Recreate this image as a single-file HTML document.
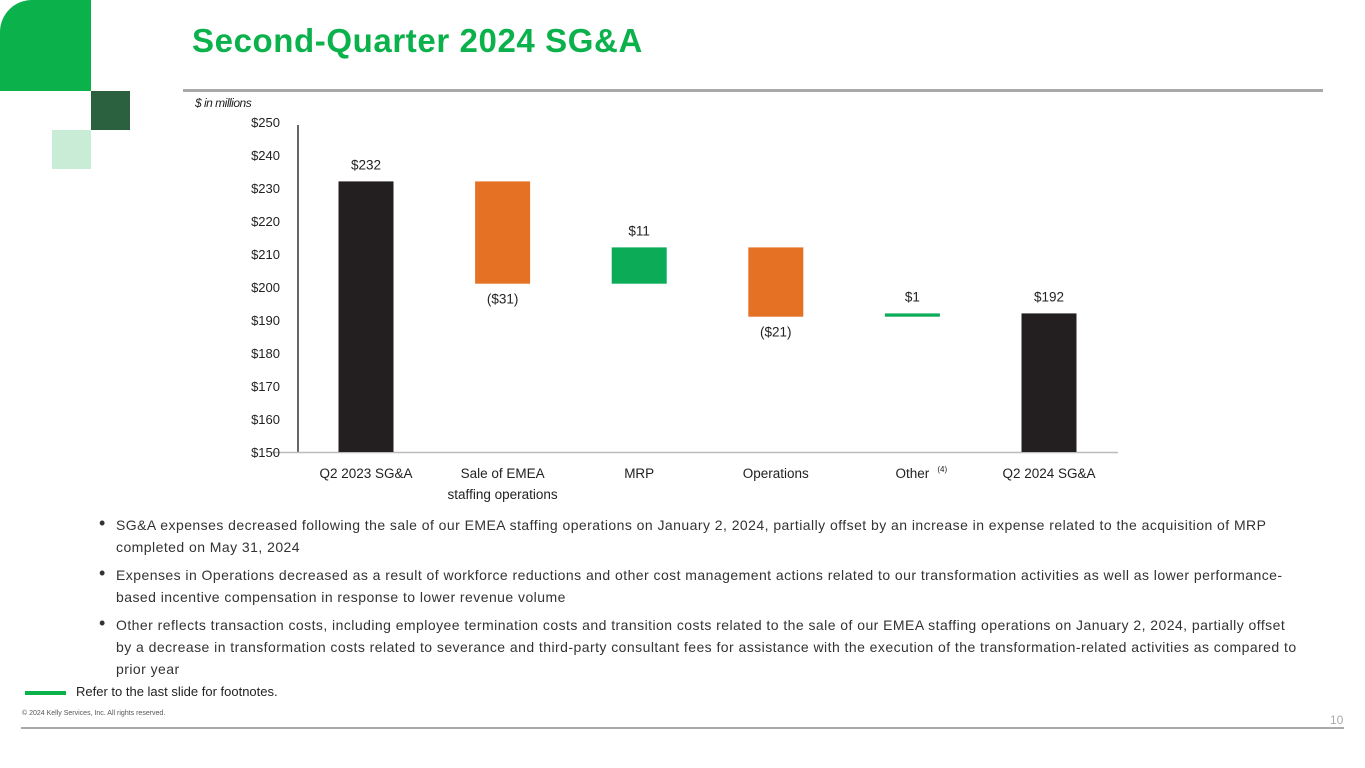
<!DOCTYPE html>
<html><head><meta charset="utf-8"><style>
body{margin:0;width:1365px;height:768px;position:relative;overflow:hidden;background:#fff;font-family:"Liberation Sans",sans-serif;color:#222}
.abs{position:absolute}
ul{margin:0;padding:0;list-style:none}
li{position:relative;padding-left:28px;font-size:14px;line-height:22px;margin-bottom:6px;color:#333;letter-spacing:0.45px}
li:before{content:"•";position:absolute;left:11px;top:-2px;font-size:18px}
</style></head><body>
<div class="abs" style="left:0;top:0;width:91px;height:91px;background:#0bb14b;border-top-left-radius:32px"></div>
<div class="abs" style="left:91px;top:91px;width:39px;height:39px;background:#2c6140"></div>
<div class="abs" style="left:52px;top:130px;width:39px;height:39px;background:#c8ecd6"></div>
<div class="abs" style="left:192px;top:22px;font-size:33px;font-weight:bold;color:#0bb14b;letter-spacing:0.6px">Second-Quarter 2024 SG&amp;A</div>
<div class="abs" style="left:183px;top:89px;width:1140px;height:3px;background:#a9a9a9"></div>
<div class="abs" style="left:195px;top:96px;font-size:12px;font-style:italic;letter-spacing:-0.5px">$ in millions</div>
<svg class="abs" style="left:0;top:0" width="1365" height="520" id="chart"></svg>
<ul class="abs" style="left:88px;top:514px;width:1215px">
<li>SG&amp;A expenses decreased following the sale of our EMEA staffing operations on January 2, 2024, partially offset by an increase in expense related to the acquisition of MRP completed on May 31, 2024</li>
<li>Expenses in Operations decreased as a result of workforce reductions and other cost management actions related to our transformation activities as well as lower performance-based incentive compensation in response to lower revenue volume</li>
<li>Other reflects transaction costs, including employee termination costs and transition costs related to the sale of our EMEA staffing operations on January 2, 2024, partially offset by a decrease in transformation costs related to severance and third-party consultant fees for assistance with the execution of the transformation-related activities as compared to prior year</li>
</ul>
<div class="abs" style="left:25px;top:691px;width:41px;height:4px;background:#0bb14b"></div>
<div class="abs" style="left:76px;top:684px;font-size:13px">Refer to the last slide for footnotes.</div>
<div class="abs" style="left:22px;top:710px;font-size:7px;color:#555">© 2024 Kelly Services, Inc. All rights reserved.</div>
<div class="abs" style="left:21px;top:727px;width:1323px;height:2px;background:#aaa"></div>
<div class="abs" style="left:1330px;top:713px;font-size:12px;color:#aaa">10</div>
<script>
const categories=["Q2 2023 SG&A","Sale of EMEA|staffing operations","MRP","Operations","Other","Q2 2024 SG&A"];
const deltas=[232,-31,11,-21,1,192];
const kinds=["total","delta","delta","delta","delta","total"];
const valueLabels=["$232","($31)","$11","($21)","$1","$192"];
const yTicks=[150,160,170,180,190,200,210,220,230,240,250];
const svg=document.getElementById('chart');const NS="http://www.w3.org/2000/svg";
const y0=452,y1=122,vmin=150,vmax=250;
const y=v=>y0-(v-vmin)/(vmax-vmin)*(y0-y1);
const x=i=>366+i*136.6;
function mk(t,a){const e=document.createElementNS(NS,t);for(const k in a)e.setAttribute(k,a[k]);svg.appendChild(e);return e;}
let l=mk('line',{x1:298,y1:125,x2:298,y2:452,stroke:'#333','stroke-width':1.5});

l=mk('line',{x1:272,y1:452.5,x2:1118,y2:452.5,stroke:'#bbb','stroke-width':1.5});

yTicks.forEach(v=>{const t=mk('text',{x:280,y:y(v)+5,'text-anchor':'end','font-size':13,fill:'#222'});t.textContent='$'+v;
});
let run=0;
categories.forEach((c,i)=>{
 let top,bot,col;const d=deltas[i];
 if(kinds[i]==='total'){top=d;bot=vmin;col='#231f20';run=d;}
 else{const a=run,b=run+d;top=Math.max(a,b);bot=Math.min(a,b);col=d<0?'#e57125':'#0bab57';run=b;}
 let h=y(bot)-y(top);if(h<3)h=3;
 const r=mk('rect',{x:x(i)-27.5,y:y(top),width:55,height:h,fill:col});
 
 const ly=(kinds[i]==='delta'&&d<0)?y(bot)+20:y(top)-12;
 const t=mk('text',{x:x(i),y:ly,'text-anchor':'middle','font-size':13.5,fill:'#222'});t.textContent=valueLabels[i];
 
 c.split('|').forEach((s,j)=>{const tt=mk('text',{x:x(i),y:478+j*21,'text-anchor':'middle','font-size':13.5,fill:'#222'});tt.textContent=s;
 
 if(s==='Other'){const sp=mk('text',{x:x(i)+25,y:472,'font-size':8,fill:'#222'});sp.textContent='(4)';
 }});
});
</script>
</body></html>
